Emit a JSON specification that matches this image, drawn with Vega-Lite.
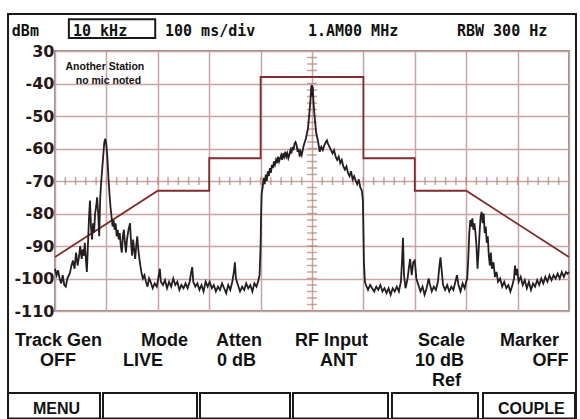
{
  "$schema": "https://vega.github.io/schema/vega-lite/v6.json",
  "width": 514,
  "height": 260,
  "autosize": {"type": "none"},
  "padding": {"left": 55, "top": 51, "right": 11, "bottom": 108},
  "background": "#ffffff",
  "config": {
    "view": {"stroke": "#9a8a8a", "strokeWidth": 2},
    "axis": {"gridColor": "#c9a4a4", "gridWidth": 1.5, "gridOpacity": 1}
  },
  "datasets": {
    "trace": [
      {"f": -50.0, "dbm": -97}, {"f": -49.7, "dbm": -99}, {"f": -49.4, "dbm": -97.5}, {"f": -49.1, "dbm": -100},
      {"f": -48.8, "dbm": -101.5}, {"f": -48.5, "dbm": -99}, {"f": -48.2, "dbm": -102}, {"f": -47.9, "dbm": -102.5},
      {"f": -47.6, "dbm": -100}, {"f": -47.3, "dbm": -99}, {"f": -47.1, "dbm": -98.3}, {"f": -46.8, "dbm": -96},
      {"f": -46.5, "dbm": -94.5}, {"f": -46.2, "dbm": -97}, {"f": -45.9, "dbm": -92}, {"f": -45.6, "dbm": -96},
      {"f": -45.3, "dbm": -93}, {"f": -45.1, "dbm": -90}, {"f": -44.8, "dbm": -94}, {"f": -44.6, "dbm": -91},
      {"f": -44.4, "dbm": -93}, {"f": -44.2, "dbm": -89}, {"f": -44.0, "dbm": -94}, {"f": -43.8, "dbm": -98},
      {"f": -43.6, "dbm": -90}, {"f": -43.4, "dbm": -82}, {"f": -43.2, "dbm": -76}, {"f": -43.0, "dbm": -84},
      {"f": -42.8, "dbm": -88}, {"f": -42.6, "dbm": -83}, {"f": -42.4, "dbm": -86}, {"f": -42.2, "dbm": -80},
      {"f": -42.0, "dbm": -78}, {"f": -41.8, "dbm": -75}, {"f": -41.6, "dbm": -80}, {"f": -41.4, "dbm": -87},
      {"f": -41.2, "dbm": -75}, {"f": -41.0, "dbm": -70}, {"f": -40.8, "dbm": -66}, {"f": -40.6, "dbm": -62},
      {"f": -40.4, "dbm": -58}, {"f": -40.2, "dbm": -57}, {"f": -40.0, "dbm": -59}, {"f": -39.8, "dbm": -63},
      {"f": -39.6, "dbm": -69}, {"f": -39.4, "dbm": -74}, {"f": -39.2, "dbm": -78}, {"f": -39.0, "dbm": -81},
      {"f": -38.8, "dbm": -84}, {"f": -38.6, "dbm": -82}, {"f": -38.4, "dbm": -85}, {"f": -38.2, "dbm": -83},
      {"f": -38.0, "dbm": -87}, {"f": -37.8, "dbm": -85}, {"f": -37.6, "dbm": -88}, {"f": -37.4, "dbm": -86},
      {"f": -37.2, "dbm": -90}, {"f": -37.0, "dbm": -92}, {"f": -36.8, "dbm": -87}, {"f": -36.6, "dbm": -85},
      {"f": -36.4, "dbm": -89}, {"f": -36.2, "dbm": -92}, {"f": -36.0, "dbm": -88}, {"f": -35.7, "dbm": -85},
      {"f": -35.4, "dbm": -83}, {"f": -35.2, "dbm": -89}, {"f": -35.0, "dbm": -93}, {"f": -34.8, "dbm": -88},
      {"f": -34.6, "dbm": -91}, {"f": -34.4, "dbm": -94}, {"f": -34.2, "dbm": -90}, {"f": -34.0, "dbm": -87},
      {"f": -33.8, "dbm": -91}, {"f": -33.5, "dbm": -95}, {"f": -33.2, "dbm": -98}, {"f": -32.9, "dbm": -100},
      {"f": -32.6, "dbm": -99}, {"f": -32.3, "dbm": -101}, {"f": -32.0, "dbm": -102.5}, {"f": -31.7, "dbm": -100},
      {"f": -31.4, "dbm": -101}, {"f": -31.0, "dbm": -103}, {"f": -30.6, "dbm": -101.5}, {"f": -30.2, "dbm": -102.5},
      {"f": -29.8, "dbm": -99}, {"f": -29.6, "dbm": -97}, {"f": -29.4, "dbm": -101}, {"f": -29.0, "dbm": -102},
      {"f": -28.6, "dbm": -100.5}, {"f": -28.2, "dbm": -103}, {"f": -27.8, "dbm": -101}, {"f": -27.4, "dbm": -102.5},
      {"f": -27.0, "dbm": -100}, {"f": -26.6, "dbm": -102}, {"f": -26.2, "dbm": -101}, {"f": -25.8, "dbm": -103.5},
      {"f": -25.4, "dbm": -102}, {"f": -25.0, "dbm": -103}, {"f": -24.6, "dbm": -101.5}, {"f": -24.2, "dbm": -103},
      {"f": -23.8, "dbm": -101}, {"f": -23.5, "dbm": -98}, {"f": -23.3, "dbm": -96.5}, {"f": -23.1, "dbm": -101},
      {"f": -22.7, "dbm": -102.5}, {"f": -22.3, "dbm": -101.5}, {"f": -21.9, "dbm": -103.5}, {"f": -21.5, "dbm": -102},
      {"f": -21.1, "dbm": -104}, {"f": -20.7, "dbm": -101}, {"f": -20.3, "dbm": -102.5}, {"f": -19.9, "dbm": -101},
      {"f": -19.5, "dbm": -103}, {"f": -19.1, "dbm": -102}, {"f": -18.7, "dbm": -104}, {"f": -18.3, "dbm": -102.5},
      {"f": -17.9, "dbm": -103.5}, {"f": -17.5, "dbm": -101.5}, {"f": -17.1, "dbm": -103}, {"f": -16.7, "dbm": -104.5},
      {"f": -16.3, "dbm": -102}, {"f": -15.9, "dbm": -103.5}, {"f": -15.5, "dbm": -101}, {"f": -15.2, "dbm": -98},
      {"f": -15.0, "dbm": -95}, {"f": -14.8, "dbm": -100}, {"f": -14.4, "dbm": -102}, {"f": -14.0, "dbm": -104},
      {"f": -13.6, "dbm": -102.5}, {"f": -13.2, "dbm": -103.5}, {"f": -12.8, "dbm": -101.5}, {"f": -12.4, "dbm": -103},
      {"f": -12.0, "dbm": -102}, {"f": -11.6, "dbm": -104}, {"f": -11.2, "dbm": -101.5}, {"f": -10.8, "dbm": -102.5},
      {"f": -10.4, "dbm": -100.5}, {"f": -10.2, "dbm": -99}, {"f": -10.0, "dbm": -90}, {"f": -9.9, "dbm": -80},
      {"f": -9.8, "dbm": -74}, {"f": -9.6, "dbm": -72}, {"f": -9.4, "dbm": -69}, {"f": -9.2, "dbm": -71},
      {"f": -9.0, "dbm": -68}, {"f": -8.8, "dbm": -70}, {"f": -8.6, "dbm": -67}, {"f": -8.4, "dbm": -68.5},
      {"f": -8.2, "dbm": -66}, {"f": -8.0, "dbm": -67.5}, {"f": -7.8, "dbm": -65}, {"f": -7.6, "dbm": -66},
      {"f": -7.4, "dbm": -64}, {"f": -7.2, "dbm": -65}, {"f": -7.0, "dbm": -63.5}, {"f": -6.8, "dbm": -64.5},
      {"f": -6.6, "dbm": -62.5}, {"f": -6.4, "dbm": -64}, {"f": -6.2, "dbm": -63}, {"f": -6.0, "dbm": -62},
      {"f": -5.8, "dbm": -63.5}, {"f": -5.6, "dbm": -61.5}, {"f": -5.4, "dbm": -62.5}, {"f": -5.2, "dbm": -61},
      {"f": -5.0, "dbm": -62.5}, {"f": -4.8, "dbm": -61.5}, {"f": -4.6, "dbm": -63}, {"f": -4.4, "dbm": -62},
      {"f": -4.2, "dbm": -60.5}, {"f": -4.0, "dbm": -61.5}, {"f": -3.8, "dbm": -59.5}, {"f": -3.6, "dbm": -60.5},
      {"f": -3.4, "dbm": -58.5}, {"f": -3.2, "dbm": -58}, {"f": -3.0, "dbm": -59}, {"f": -2.8, "dbm": -61},
      {"f": -2.6, "dbm": -60}, {"f": -2.4, "dbm": -62.5}, {"f": -2.2, "dbm": -61}, {"f": -2.0, "dbm": -62},
      {"f": -1.8, "dbm": -60.5}, {"f": -1.6, "dbm": -59}, {"f": -1.4, "dbm": -58}, {"f": -1.2, "dbm": -57},
      {"f": -0.8, "dbm": -54}, {"f": -0.5, "dbm": -49}, {"f": -0.3, "dbm": -45}, {"f": -0.15, "dbm": -41},
      {"f": 0.0, "dbm": -40.5}, {"f": 0.1, "dbm": -44}, {"f": 0.15, "dbm": -41}, {"f": 0.3, "dbm": -46},
      {"f": 0.5, "dbm": -50}, {"f": 0.8, "dbm": -55}, {"f": 1.2, "dbm": -58}, {"f": 1.5, "dbm": -61},
      {"f": 1.8, "dbm": -59.5}, {"f": 2.1, "dbm": -60.5}, {"f": 2.4, "dbm": -59}, {"f": 2.7, "dbm": -58},
      {"f": 2.9, "dbm": -57.5}, {"f": 3.1, "dbm": -58.5}, {"f": 3.4, "dbm": -59.5}, {"f": 3.7, "dbm": -60.5},
      {"f": 4.0, "dbm": -61.5}, {"f": 4.3, "dbm": -60.5}, {"f": 4.6, "dbm": -62.5}, {"f": 4.9, "dbm": -63.5},
      {"f": 5.2, "dbm": -62.5}, {"f": 5.5, "dbm": -64.5}, {"f": 5.8, "dbm": -63.5}, {"f": 6.1, "dbm": -65.5},
      {"f": 6.4, "dbm": -66.5}, {"f": 6.7, "dbm": -65.5}, {"f": 7.0, "dbm": -67.5}, {"f": 7.3, "dbm": -68.5},
      {"f": 7.6, "dbm": -67}, {"f": 7.9, "dbm": -69.5}, {"f": 8.2, "dbm": -68.5}, {"f": 8.5, "dbm": -70},
      {"f": 8.8, "dbm": -71}, {"f": 9.1, "dbm": -69.5}, {"f": 9.4, "dbm": -72}, {"f": 9.7, "dbm": -73},
      {"f": 9.9, "dbm": -76}, {"f": 10.0, "dbm": -85}, {"f": 10.1, "dbm": -95}, {"f": 10.3, "dbm": -101},
      {"f": 10.5, "dbm": -102}, {"f": 10.9, "dbm": -103.5}, {"f": 11.3, "dbm": -102}, {"f": 11.7, "dbm": -103},
      {"f": 12.1, "dbm": -104}, {"f": 12.5, "dbm": -102.5}, {"f": 12.9, "dbm": -103.5}, {"f": 13.3, "dbm": -102},
      {"f": 13.7, "dbm": -104}, {"f": 14.1, "dbm": -103}, {"f": 14.5, "dbm": -104.5}, {"f": 14.9, "dbm": -103},
      {"f": 15.3, "dbm": -105}, {"f": 15.7, "dbm": -103}, {"f": 16.1, "dbm": -104}, {"f": 16.5, "dbm": -102.5},
      {"f": 16.9, "dbm": -104}, {"f": 17.3, "dbm": -101}, {"f": 17.5, "dbm": -95}, {"f": 17.7, "dbm": -87.5},
      {"f": 17.9, "dbm": -99}, {"f": 18.2, "dbm": -103}, {"f": 18.6, "dbm": -100}, {"f": 18.9, "dbm": -96},
      {"f": 19.1, "dbm": -94}, {"f": 19.4, "dbm": -99}, {"f": 19.7, "dbm": -95}, {"f": 20.0, "dbm": -94.5},
      {"f": 20.3, "dbm": -100}, {"f": 20.7, "dbm": -102}, {"f": 21.1, "dbm": -104}, {"f": 21.5, "dbm": -102.5},
      {"f": 21.9, "dbm": -105}, {"f": 22.3, "dbm": -103}, {"f": 22.7, "dbm": -100}, {"f": 22.9, "dbm": -101.5},
      {"f": 23.3, "dbm": -104}, {"f": 23.7, "dbm": -102.5}, {"f": 24.1, "dbm": -103.5}, {"f": 24.5, "dbm": -101},
      {"f": 24.8, "dbm": -96}, {"f": 25.0, "dbm": -93.5}, {"f": 25.2, "dbm": -97}, {"f": 25.5, "dbm": -102},
      {"f": 25.9, "dbm": -103.5}, {"f": 26.3, "dbm": -102}, {"f": 26.7, "dbm": -104}, {"f": 27.1, "dbm": -102.5},
      {"f": 27.5, "dbm": -103.5}, {"f": 27.9, "dbm": -101}, {"f": 28.2, "dbm": -99}, {"f": 28.5, "dbm": -102},
      {"f": 28.9, "dbm": -104}, {"f": 29.3, "dbm": -101.5}, {"f": 29.7, "dbm": -103}, {"f": 30.0, "dbm": -101},
      {"f": 30.2, "dbm": -100}, {"f": 30.4, "dbm": -94}, {"f": 30.6, "dbm": -86}, {"f": 30.8, "dbm": -82},
      {"f": 31.0, "dbm": -84}, {"f": 31.2, "dbm": -81.5}, {"f": 31.4, "dbm": -85}, {"f": 31.6, "dbm": -83},
      {"f": 31.8, "dbm": -86}, {"f": 32.0, "dbm": -90}, {"f": 32.2, "dbm": -97}, {"f": 32.4, "dbm": -92},
      {"f": 32.6, "dbm": -86}, {"f": 32.8, "dbm": -81}, {"f": 33.0, "dbm": -79.5}, {"f": 33.2, "dbm": -83},
      {"f": 33.4, "dbm": -80}, {"f": 33.6, "dbm": -86}, {"f": 33.8, "dbm": -84}, {"f": 34.0, "dbm": -89},
      {"f": 34.2, "dbm": -87}, {"f": 34.4, "dbm": -93}, {"f": 34.6, "dbm": -96}, {"f": 34.8, "dbm": -92},
      {"f": 35.0, "dbm": -97}, {"f": 35.3, "dbm": -95}, {"f": 35.6, "dbm": -99.5}, {"f": 35.9, "dbm": -98},
      {"f": 36.2, "dbm": -101}, {"f": 36.6, "dbm": -100}, {"f": 37.0, "dbm": -102.5}, {"f": 37.4, "dbm": -101},
      {"f": 37.8, "dbm": -103}, {"f": 38.2, "dbm": -102}, {"f": 38.6, "dbm": -104}, {"f": 39.0, "dbm": -102},
      {"f": 39.3, "dbm": -100}, {"f": 39.5, "dbm": -96}, {"f": 39.7, "dbm": -99}, {"f": 39.9, "dbm": -97},
      {"f": 40.2, "dbm": -101}, {"f": 40.6, "dbm": -99.5}, {"f": 41.0, "dbm": -102}, {"f": 41.4, "dbm": -100.5},
      {"f": 41.8, "dbm": -103}, {"f": 42.2, "dbm": -101}, {"f": 42.6, "dbm": -103.5}, {"f": 43.0, "dbm": -101.5},
      {"f": 43.4, "dbm": -102.5}, {"f": 43.8, "dbm": -100.5}, {"f": 44.2, "dbm": -102}, {"f": 44.6, "dbm": -100},
      {"f": 45.0, "dbm": -101.5}, {"f": 45.4, "dbm": -99.5}, {"f": 45.8, "dbm": -101}, {"f": 46.2, "dbm": -99},
      {"f": 46.6, "dbm": -100.5}, {"f": 47.0, "dbm": -99}, {"f": 47.4, "dbm": -100}, {"f": 47.8, "dbm": -98.5},
      {"f": 48.2, "dbm": -100}, {"f": 48.6, "dbm": -98}, {"f": 49.0, "dbm": -99.5}, {"f": 49.4, "dbm": -98},
      {"f": 49.7, "dbm": -98.5}, {"f": 50.0, "dbm": -98}
    ],
    "mask": [
      {"i": 1, "f": -50, "dbm": -93.4}, {"i": 2, "f": -30, "dbm": -73}, {"i": 3, "f": -20, "dbm": -73},
      {"i": 4, "f": -20, "dbm": -63}, {"i": 5, "f": -10, "dbm": -63}, {"i": 6, "f": -10, "dbm": -38},
      {"i": 7, "f": 10, "dbm": -38}, {"i": 8, "f": 10, "dbm": -63}, {"i": 9, "f": 20, "dbm": -63},
      {"i": 10, "f": 20, "dbm": -73}, {"i": 11, "f": 30, "dbm": -73}, {"i": 12, "f": 50, "dbm": -93.4}
    ],
    "hticks": [
      {"f": -48, "dbm": -70}, {"f": -46, "dbm": -70}, {"f": -44, "dbm": -70}, {"f": -42, "dbm": -70}, {"f": -40, "dbm": -70},
      {"f": -38, "dbm": -70}, {"f": -36, "dbm": -70}, {"f": -34, "dbm": -70}, {"f": -32, "dbm": -70}, {"f": -30, "dbm": -70},
      {"f": -28, "dbm": -70}, {"f": -26, "dbm": -70}, {"f": -24, "dbm": -70}, {"f": -22, "dbm": -70}, {"f": -20, "dbm": -70},
      {"f": -18, "dbm": -70}, {"f": -16, "dbm": -70}, {"f": -14, "dbm": -70}, {"f": -12, "dbm": -70}, {"f": -10, "dbm": -70},
      {"f": -8, "dbm": -70}, {"f": -6, "dbm": -70}, {"f": -4, "dbm": -70}, {"f": -2, "dbm": -70},
      {"f": 2, "dbm": -70}, {"f": 4, "dbm": -70}, {"f": 6, "dbm": -70}, {"f": 8, "dbm": -70}, {"f": 10, "dbm": -70},
      {"f": 12, "dbm": -70}, {"f": 14, "dbm": -70}, {"f": 16, "dbm": -70}, {"f": 18, "dbm": -70}, {"f": 20, "dbm": -70},
      {"f": 22, "dbm": -70}, {"f": 24, "dbm": -70}, {"f": 26, "dbm": -70}, {"f": 28, "dbm": -70}, {"f": 30, "dbm": -70},
      {"f": 32, "dbm": -70}, {"f": 34, "dbm": -70}, {"f": 36, "dbm": -70}, {"f": 38, "dbm": -70}, {"f": 40, "dbm": -70},
      {"f": 42, "dbm": -70}, {"f": 44, "dbm": -70}, {"f": 46, "dbm": -70}, {"f": 48, "dbm": -70}
    ],
    "vticks": [
      {"f": 0, "dbm": -108}, {"f": 0, "dbm": -106}, {"f": 0, "dbm": -104}, {"f": 0, "dbm": -102}, {"f": 0, "dbm": -100},
      {"f": 0, "dbm": -98}, {"f": 0, "dbm": -96}, {"f": 0, "dbm": -94}, {"f": 0, "dbm": -92}, {"f": 0, "dbm": -90},
      {"f": 0, "dbm": -88}, {"f": 0, "dbm": -86}, {"f": 0, "dbm": -84}, {"f": 0, "dbm": -82}, {"f": 0, "dbm": -80},
      {"f": 0, "dbm": -78}, {"f": 0, "dbm": -76}, {"f": 0, "dbm": -74}, {"f": 0, "dbm": -72},
      {"f": 0, "dbm": -68}, {"f": 0, "dbm": -66}, {"f": 0, "dbm": -64}, {"f": 0, "dbm": -62}, {"f": 0, "dbm": -60},
      {"f": 0, "dbm": -58}, {"f": 0, "dbm": -56}, {"f": 0, "dbm": -54}, {"f": 0, "dbm": -52}, {"f": 0, "dbm": -50},
      {"f": 0, "dbm": -48}, {"f": 0, "dbm": -46}, {"f": 0, "dbm": -44}, {"f": 0, "dbm": -42}, {"f": 0, "dbm": -40},
      {"f": 0, "dbm": -38}, {"f": 0, "dbm": -36}, {"f": 0, "dbm": -34}, {"f": 0, "dbm": -32}
    ],
    "toptext": [
      {"label": "dBm", "f": -58.4, "dbm": -25.4},
      {"label": "10  kHz", "f": -46.5, "dbm": -25.4},
      {"label": "100 ms/div", "f": -28.6, "dbm": -25.4},
      {"label": "1.AM00 MHz", "f": -0.8, "dbm": -25.4},
      {"label": "RBW  300  Hz", "f": 28.2, "dbm": -25.4}
    ],
    "bottomtext": [
      {"label": "Track Gen", "f": -57.78, "dbm": -120.8},
      {"label": "OFF", "f": -52.92, "dbm": -126.9},
      {"label": "Mode", "f": -33.27, "dbm": -120.8},
      {"label": "LIVE", "f": -36.77, "dbm": -126.9},
      {"label": "Atten", "f": -18.68, "dbm": -120.8},
      {"label": "0 dB", "f": -18.48, "dbm": -126.9},
      {"label": "RF Input", "f": -3.31, "dbm": -120.8},
      {"label": "ANT", "f": 1.56, "dbm": -126.9},
      {"label": "Scale", "f": 20.62, "dbm": -120.8},
      {"label": "10 dB", "f": 20.04, "dbm": -126.9},
      {"label": "Ref", "f": 23.35, "dbm": -133.1},
      {"label": "Marker", "f": 36.58, "dbm": -120.8},
      {"label": "OFF", "f": 42.9, "dbm": -126.9}
    ],
    "buttons": [
      {"label": "MENU", "f": -54.28, "dbm": -141.7},
      {"label": "COUPLE", "f": 36.19, "dbm": -141.7}
    ],
    "note": [
      {"label": "Another Station", "f": -40.3, "dbm": -35.9},
      {"label": "no mic noted", "f": -39.6, "dbm": -40.0}
    ],
    "boxes": [
      {"f": -59.14, "f2": 51.36, "dbm": -18.6, "dbm2": -143.2},
      {"f": -47.3, "f2": -30.5, "dbm": -20.2, "dbm2": -26.0},
      {"f": -59.14, "f2": -41.25, "dbm": -135.2, "dbm2": -143.1},
      {"f": -40.66, "f2": -22.37, "dbm": -135.2, "dbm2": -143.1},
      {"f": -21.79, "f2": -4.28, "dbm": -135.2, "dbm2": -143.1},
      {"f": -3.70, "f2": 14.79, "dbm": -135.2, "dbm2": -143.1},
      {"f": 15.56, "f2": 32.30, "dbm": -135.2, "dbm2": -143.1},
      {"f": 33.27, "f2": 51.17, "dbm": -135.2, "dbm2": -143.1}
    ]
  },
  "encoding": {
    "x": {
      "field": "f", "type": "quantitative",
      "scale": {"domain": [-50, 50], "nice": false, "zero": false},
      "axis": {"values": [-50, -40, -30, -20, -10, 0, 10, 20, 30, 40, 50], "grid": true, "labels": false, "ticks": false, "domain": false, "title": null}
    },
    "y": {
      "field": "dbm", "type": "quantitative",
      "scale": {"domain": [-110, -30], "nice": false, "zero": false},
      "axis": {
        "values": [-110, -100, -90, -80, -70, -60, -50, -40, -30],
        "grid": true, "ticks": false, "domain": false, "title": null,
        "labelExpr": "datum.value == -30 ? '30' : '' + datum.value",
        "labelFont": "DejaVu Sans", "labelFontWeight": "bold", "labelFontSize": 16,
        "labelColor": "#2a1818", "labelPadding": 1, "labelOverlap": false, "labelBound": false
      }
    }
  },
  "layer": [
    {
      "data": {"name": "hticks"},
      "mark": {"type": "tick", "orient": "vertical", "size": 8, "thickness": 1.5, "color": "#ad8473"}
    },
    {
      "data": {"name": "vticks"},
      "mark": {"type": "tick", "orient": "horizontal", "size": 10, "thickness": 1.5, "color": "#ad8473"}
    },
    {
      "data": {"name": "mask"},
      "mark": {"type": "line", "color": "#832c2c", "strokeWidth": 1.8},
      "encoding": {"order": {"field": "i", "type": "quantitative"}}
    },
    {
      "data": {"name": "trace"},
      "mark": {"type": "line", "color": "#241d21", "strokeWidth": 1.8}
    },
    {
      "data": {"name": "boxes"},
      "mark": {"type": "rect", "fill": null, "fillOpacity": 0, "stroke": "#1a1a1a", "strokeWidth": 2},
      "encoding": {"x2": {"field": "f2"}, "y2": {"field": "dbm2"}}
    },
    {
      "data": {"name": "toptext"},
      "mark": {"type": "text", "align": "left", "baseline": "alphabetic", "font": "DejaVu Sans Mono", "fontWeight": "bold", "fontSize": 15, "color": "#111111"},
      "encoding": {"text": {"field": "label"}}
    },
    {
      "data": {"name": "bottomtext"},
      "mark": {"type": "text", "align": "left", "baseline": "alphabetic", "font": "Liberation Sans", "fontWeight": "bold", "fontSize": 18, "color": "#111111"},
      "encoding": {"text": {"field": "label"}}
    },
    {
      "data": {"name": "buttons"},
      "mark": {"type": "text", "align": "left", "baseline": "alphabetic", "font": "Liberation Sans", "fontWeight": "bold", "fontSize": 16, "color": "#111111"},
      "encoding": {"text": {"field": "label"}}
    },
    {
      "data": {"name": "note"},
      "mark": {"type": "text", "align": "center", "baseline": "alphabetic", "font": "Liberation Sans", "fontWeight": "bold", "fontSize": 10.5, "color": "#111111"},
      "encoding": {"text": {"field": "label"}}
    }
  ]
}
